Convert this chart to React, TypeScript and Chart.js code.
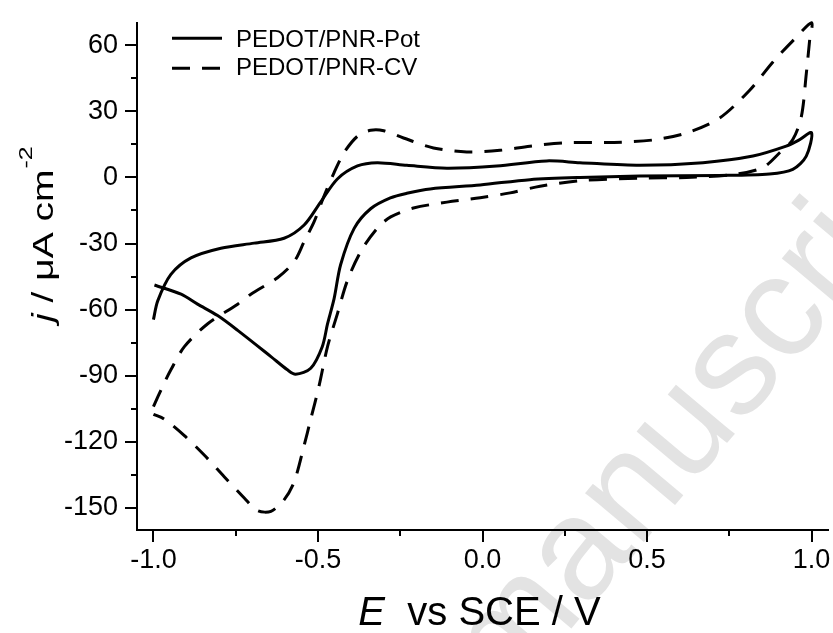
import React, { useEffect, useRef } from 'react';
import { Chart, registerables } from 'chart.js';

Chart.register(...registerables);

// ---------- data ----------
const SERIES_LABELS = ['PEDOT/PNR-Pot', 'PEDOT/PNR-CV'];

const POT_E = [
  -0.997, -0.916, -0.866, -0.805, -0.744, -0.643, -0.593, -0.568, -0.522, -0.487,
  -0.471, -0.451, -0.431, -0.39, -0.34, -0.28, -0.23, -0.159, -0.007, 0.144,
  0.296, 0.478, 0.72, 0.872, 0.943, 0.984, 1.0, 0.96, 0.923, 0.822,
  0.67, 0.478, 0.296, 0.195, 0.043, -0.108, -0.23, -0.32, -0.38, -0.441,
  -0.492, -0.542, -0.603, -0.694, -0.795, -0.886, -0.947, -0.987, -1.0,
];
const POT_J = [
  -48.8, -53.0, -57.5, -62.7, -69.4, -81.3, -87.3, -89.3, -86.6, -76.8,
  -66.5, -55.0, -39.5, -23.1, -14.2, -9.3, -7.2, -5.2, -3.4, -1.0,
  0.0, 0.6, 0.9, 1.6, 3.7, 9.7, 20.3, 16.8, 14.2, 9.7,
  6.7, 5.5, 6.7, 7.5, 5.2, 4.2, 5.5, 6.7, 5.2, -0.7,
  -11.2, -21.6, -27.6, -29.8, -32.1, -36.5, -44.0, -56.0, -64.5,
];

const CV_E = [
  -1.0, -0.972, -0.947, -0.906, -0.835, -0.744, -0.704, -0.623, -0.572, -0.542,
  -0.512, -0.481, -0.451, -0.421, -0.38, -0.34, -0.3, -0.24, -0.149, -0.048,
  0.053, 0.144, 0.245, 0.4, 0.518, 0.62, 0.72, 0.812, 0.882, 0.943,
  1.0, 0.994, 0.984, 0.969, 0.943, 0.903, 0.852, 0.771, 0.62, 0.478,
  0.296, 0.175, 0.084, -0.007, -0.108, -0.21, -0.279, -0.32, -0.37, -0.411,
  -0.441, -0.471, -0.497, -0.522, -0.542, -0.572, -0.603, -0.643, -0.684, -0.724,
  -0.785, -0.845, -0.906, -0.967, -1.0,
];
const CV_J = [
  -104.0, -94.8, -87.3, -76.8, -66.4, -57.5, -53.0, -45.5, -38.1, -29.1,
  -20.2, -8.2, 2.2, 11.2, 18.7, 21.4, 21.2, 17.9, 13.4, 11.6,
  12.3, 14.2, 15.7, 15.9, 17.0, 20.2, 26.9, 39.6, 52.3, 62.0,
  70.2, 62.0, 47.0, 27.6, 17.2, 11.2, 4.5, 1.5, 0.0, -0.3,
  -1.5, -4.0, -7.0, -9.2, -11.2, -13.9, -17.9, -23.1, -33.6, -47.0,
  -61.9, -76.8, -94.8, -109.7, -121.6, -138.0, -146.3, -151.5, -151.2, -145.5,
  -135.8, -126.1, -117.2, -109.7, -107.5,
];

const X_TICKS = [-1.0, -0.5, 0.0, 0.5, 1.0];
const X_MINOR = [-0.75, -0.25, 0.25, 0.75];
const Y_TICKS = [-150, -120, -90, -60, -30, 0, 30, 60];
const Y_MINOR = [-135, -105, -75, -45, -15, 15, 45];
const X_RANGE = [-1.05, 1.05];
const Y_RANGE = [-160, 70];

const FONT = '"Liberation Sans", Arial, Helvetica, sans-serif';

const decorPlugin = {
  id: 'decor',
  beforeDraw(chart: any) {
    const ctx = chart.ctx;
    ctx.save();
    ctx.fillStyle = '#e3e3e3';
    ctx.font = `145px ${FONT}`;
    ctx.translate(508, 704);
    ctx.rotate((-50 * Math.PI) / 180);
    ctx.textBaseline = 'alphabetic';
    ctx.fillText('manuscript', 0, 0);
    ctx.restore();
  },
  afterDraw(chart: any) {
    const ctx = chart.ctx;
    const area = chart.chartArea;
    const xs = chart.scales.x;
    const ys = chart.scales.y;
    ctx.save();
    // minor ticks
    ctx.strokeStyle = '#000';
    ctx.lineWidth = 2;
    ctx.beginPath();
    X_MINOR.forEach((v) => {
      const px = Math.round(xs.getPixelForValue(v));
      ctx.moveTo(px, area.bottom);
      ctx.lineTo(px, area.bottom + 6);
    });
    Y_MINOR.forEach((v) => {
      const py = Math.round(ys.getPixelForValue(v));
      ctx.moveTo(area.left - 6, py);
      ctx.lineTo(area.left, py);
    });
    ctx.stroke();

    // legend
    ctx.fillStyle = '#000';
    ctx.textBaseline = 'alphabetic';
    chart.data.datasets.forEach((ds: any, i: number) => {
      const ly = area.top + 15 + 30 * i;
      ctx.save();
      ctx.strokeStyle = ds.borderColor;
      ctx.lineWidth = ds.borderWidth;
      ctx.setLineDash(ds.borderDash || []);
      ctx.beginPath();
      ctx.moveTo(area.left + 35, ly);
      ctx.lineTo(area.left + 85, ly);
      ctx.stroke();
      ctx.restore();
      ctx.font = `24px ${FONT}`;
      ctx.fillText(ds.label, area.left + 99, area.top + 23.5 + 28.5 * i);
    });

    // x title
    const cx = (area.left + area.right) / 2 - 3;
    ctx.font = `italic 40px ${FONT}`;
    const wE = ctx.measureText('E').width;
    ctx.font = `40px ${FONT}`;
    const rest = '  vs SCE / V';
    const wR = ctx.measureText(rest).width;
    const x0 = cx - (wE + wR) / 2;
    ctx.font = `italic 40px ${FONT}`;
    ctx.fillText('E', x0, 625);
    ctx.font = `40px ${FONT}`;
    ctx.fillText(rest, x0 + wE, 625);

    // y title
    ctx.save();
    ctx.translate(53, 322);
    ctx.rotate(-Math.PI / 2);
    ctx.scale(1, 0.75);
    ctx.font = `italic 39px ${FONT}`;
    ctx.fillText('j', 0, 0);
    const wj = ctx.measureText('j').width;
    ctx.font = `39px ${FONT}`;
    const mid = ' / μA cm';
    ctx.fillText(mid, wj, 0);
    const wm = ctx.measureText(mid).width;
    ctx.font = `25px ${FONT}`;
    ctx.fillText('-2', wj + wm + 1, -28);
    ctx.restore();

    ctx.restore();
  },
};

export default function App() {
  const ref = useRef<HTMLCanvasElement>(null);

  useEffect(() => {
    if (!ref.current) return;
    const mk = (es: number[], js: number[]) => es.map((x, i) => ({ x, y: js[i] }));
    const chart = new Chart(ref.current, {
      type: 'scatter',
      data: {
        datasets: [
          {
            label: SERIES_LABELS[0],
            data: mk(POT_E, POT_J),
            showLine: true,
            borderColor: '#000',
            backgroundColor: '#000',
            borderWidth: 3,
            pointRadius: 0,
            pointHoverRadius: 0,
            tension: 0.3,
            borderJoinStyle: 'round',
            clip: false,
          } as any,
          {
            label: SERIES_LABELS[1],
            data: mk(CV_E, CV_J),
            showLine: true,
            borderColor: '#000',
            backgroundColor: '#000',
            borderWidth: 3,
            borderDash: [18, 12],
            pointRadius: 0,
            pointHoverRadius: 0,
            tension: 0.3,
            clip: false,
          } as any,
        ],
      },
      options: {
        responsive: false,
        animation: false,
        events: [],
        layout: { padding: { top: 15, right: 5, left: 0, bottom: 0 } },
        plugins: {
          legend: { display: false },
          tooltip: { enabled: false },
        },
        scales: {
          x: {
            type: 'linear',
            position: 'bottom',
            min: X_RANGE[0],
            max: X_RANGE[1],
            afterBuildTicks: (s: any) => {
              s.ticks = X_TICKS.map((value) => ({ value }));
            },
            afterFit: (s: any) => {
              s.height = 103;
            },
            grid: {
              display: true,
              drawOnChartArea: false,
              drawTicks: true,
              tickLength: 12,
              color: '#000',
              lineWidth: 2,
            },
            border: { display: true, color: '#000', width: 2 },
            ticks: {
              autoSkip: false,
              maxRotation: 0,
              padding: 2,
              color: '#000',
              font: { family: FONT, size: 27 },
              callback: (v: any) => Number(v).toFixed(1),
            },
          },
          y: {
            type: 'linear',
            min: Y_RANGE[0],
            max: Y_RANGE[1],
            afterBuildTicks: (s: any) => {
              s.ticks = Y_TICKS.map((value) => ({ value }));
            },
            afterFit: (s: any) => {
              s.width = 137;
            },
            grid: {
              display: true,
              drawOnChartArea: false,
              drawTicks: true,
              tickLength: 12,
              color: '#000',
              lineWidth: 2,
            },
            border: { display: true, color: '#000', width: 2 },
            ticks: {
              autoSkip: false,
              padding: 7,
              color: '#000',
              font: { family: FONT, size: 27 },
              callback: (v: any) => String(v),
            },
          },
        },
      } as any,
      plugins: [decorPlugin],
    });
    return () => chart.destroy();
  }, []);

  return (
    <div style={{ position: 'fixed', left: 0, top: 0, width: 833, height: 633, background: '#fff' }}>
      <canvas ref={ref} width={833} height={633} style={{ display: 'block', width: 833, height: 633 }} />
    </div>
  );
}
